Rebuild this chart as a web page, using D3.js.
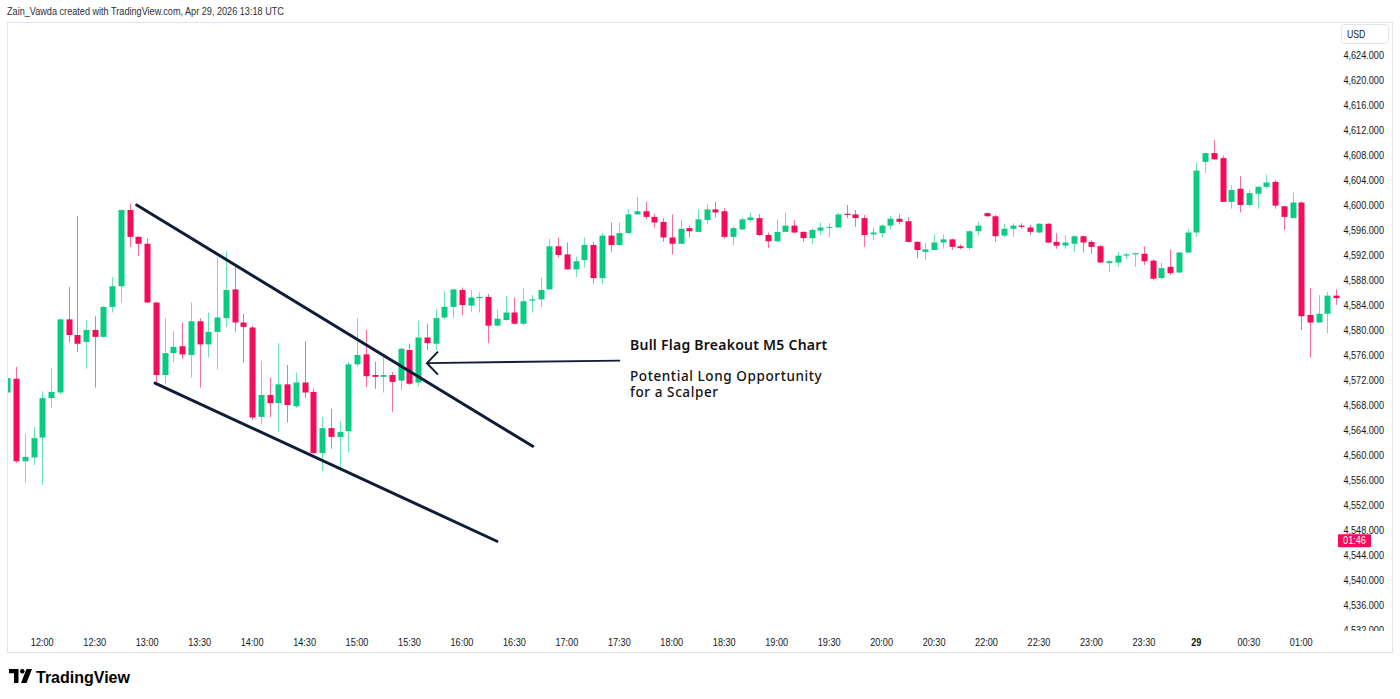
<!DOCTYPE html>
<html><head><meta charset="utf-8">
<script src="https://cdn.jsdelivr.net/npm/d3@7"></script>
<style>
html,body{margin:0;padding:0;background:#fff;}
svg{display:block;}
</style></head>
<body>
<svg id="chart" width="1400" height="699"></svg>
<script>
// ---------- DATA (XAU/USD M5) ----------
const startTime = "11:40";
const opens = [4570.0,4572.2,4559.0,4559.6,4562.8,4569.1,4570.0,4581.7,4579.2,4578.1,4580.0,4578.9,4583.7,4587.0,4599.2,4594.9,4593.8,4584.4,4572.8,4576.3,4577.4,4576.0,4581.4,4577.7,4579.7,4581.9,4586.5,4581.2,4580.4,4566.1,4569.6,4568.3,4571.3,4567.8,4571.6,4570.1,4560.3,4564.3,4562.9,4563.8,4574.5,4576.1,4572.8,4572.5,4572.8,4571.9,4576.8,4571.6,4578.8,4577.8,4582.0,4583.7,4586.4,4583.9,4585.1,4585.3,4580.7,4581.6,4582.8,4581.0,4584.7,4584.9,4586.5,4593.4,4592.1,4589.7,4591.2,4593.6,4588.3,4595.1,4593.6,4595.5,4598.5,4599.0,4598.1,4597.3,4594.8,4593.8,4596.3,4595.7,4597.6,4599.3,4599.0,4594.9,4596.1,4597.6,4597.9,4595.2,4594.2,4595.7,4596.7,4595.7,4594.7,4595.9,4596.4,4596.4,4598.6,4598.5,4597.9,4595.3,4595.5,4596.7,4597.8,4597.4,4594.1,4592.5,4592.8,4594.0,4594.5,4593.4,4593.1,4595.8,4598.7,4598.2,4595.1,4596.2,4596.7,4596.4,4595.6,4597.0,4594.1,4593.5,4593.8,4595.0,4594.1,4593.4,4590.7,4590.8,4591.9,4592.1,4592.2,4591.1,4588.3,4590.1,4589.2,4592.4,4595.6,4606.9,4608.3,4607.5,4600.5,4602.6,4600.0,4601.8,4602.9,4603.7,4599.8,4597.9,4600.4,4582.4,4581.2,4582.6,4585.5];
const highs = [4572.4,4574.1,4563.4,4564.5,4570.2,4573.9,4581.8,4586.9,4598.2,4581.6,4582.2,4583.8,4588.5,4599.3,4600.2,4595.0,4594.7,4584.5,4581.9,4579.8,4581.2,4584.4,4581.9,4582.8,4591.6,4592.6,4590.4,4582.6,4580.7,4575.1,4572.4,4577.9,4574.4,4573.2,4578.2,4570.6,4566.1,4567.4,4565.4,4574.9,4581.9,4580.1,4574.9,4576.1,4573.3,4577.2,4577.8,4581.5,4581.0,4583.3,4586.2,4586.6,4586.8,4586.4,4586.0,4585.8,4583.3,4585.4,4585.2,4586.7,4585.6,4588.4,4594.6,4594.8,4594.0,4591.7,4594.8,4594.1,4595.5,4597.2,4597.2,4599.4,4601.3,4600.5,4598.6,4597.9,4598.5,4597.7,4596.7,4599.3,4600.1,4600.5,4599.5,4596.6,4598.0,4598.8,4598.5,4595.6,4597.7,4598.8,4597.6,4595.8,4596.3,4597.2,4597.1,4598.8,4600.0,4599.2,4598.4,4596.4,4596.9,4598.3,4598.5,4598.0,4594.2,4593.9,4595.3,4595.3,4594.6,4593.7,4596.0,4597.3,4598.8,4598.4,4597.0,4597.1,4597.1,4596.8,4597.1,4597.1,4595.5,4595.2,4595.2,4595.1,4594.4,4593.6,4591.2,4592.5,4592.4,4592.4,4593.4,4591.3,4590.8,4592.9,4592.5,4596.1,4606.8,4608.4,4610.4,4607.9,4603.2,4604.6,4602.4,4603.0,4604.9,4604.0,4599.9,4602.0,4600.6,4586.7,4585.6,4586.1,4586.5];
const lows = [4569.8,4558.7,4555.6,4558.4,4555.2,4567.5,4569.7,4578.0,4576.5,4573.8,4570.8,4578.8,4582.8,4584.4,4593.3,4591.8,4584.3,4571.5,4571.3,4574.9,4575.4,4572.4,4570.8,4575.6,4573.7,4580.5,4579.7,4574.8,4565.6,4564.9,4566.1,4563.7,4565.2,4567.5,4569.1,4560.2,4557.4,4561.0,4557.5,4560.4,4574.1,4570.9,4570.6,4570.0,4566.9,4570.4,4571.2,4571.0,4576.8,4576.8,4581.8,4581.9,4582.4,4582.9,4582.8,4577.9,4580.6,4581.5,4580.9,4580.7,4582.8,4583.7,4586.5,4591.6,4589.7,4588.5,4590.0,4587.4,4587.3,4592.5,4593.5,4595.4,4598.4,4597.7,4596.4,4594.1,4592.1,4593.7,4594.8,4595.7,4596.9,4598.0,4594.6,4593.5,4596.0,4597.2,4595.0,4593.1,4594.0,4595.7,4595.5,4594.1,4593.7,4595.2,4594.8,4596.4,4597.9,4596.5,4593.3,4594.4,4594.8,4596.1,4596.9,4594.0,4591.5,4591.2,4592.8,4593.1,4592.8,4592.9,4592.8,4595.2,4598.1,4594.1,4594.8,4594.9,4596.2,4595.2,4595.5,4593.9,4593.0,4593.0,4592.5,4592.4,4592.2,4590.8,4589.3,4590.1,4591.3,4590.1,4590.4,4587.9,4588.1,4588.8,4589.1,4592.4,4594.9,4605.1,4607.3,4600.5,4599.4,4598.8,4599.7,4599.4,4602.6,4599.4,4596.0,4597.9,4580.0,4575.6,4581.2,4579.5,4584.0];
const closes = [4572.3,4559.0,4559.7,4562.7,4569.1,4570.1,4581.7,4579.2,4577.8,4580.0,4578.9,4583.7,4587.0,4599.2,4594.9,4593.8,4584.4,4572.8,4576.3,4577.3,4576.1,4581.4,4577.7,4579.7,4582.0,4586.4,4581.2,4580.5,4566.0,4569.6,4568.3,4571.3,4568.0,4571.6,4570.0,4560.3,4564.3,4562.9,4563.7,4574.5,4576.0,4572.6,4572.5,4572.8,4571.7,4577.0,4571.4,4578.8,4577.9,4581.9,4583.7,4586.5,4584.0,4585.2,4585.3,4580.7,4581.8,4582.8,4581.0,4584.6,4584.9,4586.4,4593.4,4592.0,4589.7,4591.0,4593.6,4588.3,4595.1,4593.6,4595.5,4598.5,4599.0,4598.1,4597.2,4594.8,4593.8,4596.2,4595.8,4597.7,4599.3,4598.8,4594.9,4596.3,4597.7,4598.0,4595.2,4594.2,4595.7,4596.7,4595.6,4594.7,4596.0,4596.4,4596.5,4598.5,4598.4,4597.9,4595.2,4595.6,4596.7,4597.8,4597.3,4594.1,4592.8,4592.9,4594.0,4594.5,4593.3,4593.1,4595.8,4596.7,4598.2,4595.0,4596.2,4596.7,4596.5,4595.7,4597.0,4594.0,4593.5,4594.0,4595.0,4594.0,4593.3,4590.8,4591.0,4591.9,4592.1,4592.3,4591.0,4588.2,4589.9,4589.1,4592.4,4595.6,4605.5,4608.3,4607.3,4600.5,4602.4,4600.0,4601.9,4602.9,4603.6,4599.9,4598.1,4600.4,4582.2,4581.2,4582.6,4585.5,4585.1];

const priceTicks = [4532,4536,4540,4544,4548,4552,4556,4560,4564,4568,4572,4576,4580,4584,4588,4592,4596,4600,4604,4608,4612,4616,4620,4624];
const tickTimes  = ["12:00","12:30","13:00","13:30","14:00","14:30","15:00","15:30","16:00","16:30","17:00","17:30","18:00","18:30","19:00","19:30","20:00","20:30","22:00","22:30","23:00","23:30","00:00","00:30","01:00"];
const tickLabels = ["12:00","12:30","13:00","13:30","14:00","14:30","15:00","15:30","16:00","16:30","17:00","17:30","18:00","18:30","19:00","19:30","20:00","20:30","22:00","22:30","23:00","23:30","29","00:30","01:00"];
const boldLabels = ["29"];

// Annotation drawings (index, price)
const flagUpper = [{i:14.8, p:4600.0},{i:60.1, p:4561.4}];
const flagLower = [{i:16.9, p:4571.5},{i:56.0, p:4546.2}];
const arrowLine = [{i:70.1, p:4575.1},{i:48.0, p:4574.7}];
const noteTitle = "Bull Flag Breakout M5 Chart";
const noteLines = ["Potential Long Opportunity","for a Scalper"];
const headerText = "Zain_Vawda created with TradingView.com, Apr 29, 2026 13:18 UTC";
const countdown = {label:"01:46", p:4546.3};

// ---------- build candle times (5-minute bars, 21:00-22:00 break) ----------
const N = opens.length;
function toMin(s){const [h,m]=s.split(":").map(Number);return h*60+m;}
function fmt(m){const h=Math.floor(m/60)%24, mm=m%60;return String(h).padStart(2,"0")+":"+String(mm).padStart(2,"0");}
const times=[];
for(let m=toMin(startTime); times.length<N; m+=5){const mm=m%1440; if(mm>=21*60 && mm<22*60) continue; times.push(fmt(mm));}
const candles = d3.range(N).map(i=>({i,t:times[i],o:opens[i],h:highs[i],l:lows[i],c:closes[i]}));

// ---------- layout ----------
const svg = d3.select("#chart");
const font = "'Liberation Sans',Arial,sans-serif";
const SX = 0.83; // condensed look of the UI font
const UP="#0BCB83", DOWN="#F70A59", INK="#131722", LINE="#0f1d3b";
const plot = {left:8, right:1340, top:23, bottom:631};

const x = d3.scaleLinear().domain([0,152]).range([7.3, 7.3+152*8.743]);
const y = d3.scaleLinear().domain([4532,4624]).range([630,55]);

function place(sel, fx, fy){ // position + horizontal condense
  return sel.attr("transform",(d,k)=>`translate(${typeof fx==="function"?fx(d,k):fx},${typeof fy==="function"?fy(d,k):fy}) scale(${SX},1)`);
}

// header
place(svg.append("text"),7,15).attr("font-family",font).attr("font-size",11)
  .attr("fill","#2a2e39").text(headerText);

// frame
svg.append("rect").attr("x",7.5).attr("y",22.5).attr("width",1385).attr("height",630)
  .attr("fill","none").attr("stroke","#e0e3eb").attr("stroke-width",1);

svg.append("clipPath").attr("id","pc").append("rect")
  .attr("x",plot.left).attr("y",plot.top).attr("width",plot.right-plot.left).attr("height",plot.bottom-plot.top);
svg.append("clipPath").attr("id","ac").append("rect")
  .attr("x",1336).attr("y",plot.top).attr("width",56).attr("height",plot.bottom-plot.top);

const g = svg.append("g").attr("clip-path","url(#pc)");

// candles
const bw = 6;
const cg = g.selectAll("g.c").data(candles).join("g").attr("class","c");
cg.append("line")
  .attr("x1",d=>Math.round(x(d.i))+0.5).attr("x2",d=>Math.round(x(d.i))+0.5)
  .attr("y1",d=>y(d.h)).attr("y2",d=>y(d.l))
  .attr("stroke",d=>d.c>=d.o?UP:DOWN).attr("stroke-opacity",0.6).attr("stroke-width",1);
cg.append("rect")
  .attr("x",d=>Math.round(x(d.i))+0.5-bw/2).attr("width",bw)
  .attr("y",d=>y(Math.max(d.o,d.c)))
  .attr("height",d=>Math.max(1,Math.abs(y(d.o)-y(d.c))))
  .attr("fill",d=>d.c>=d.o?UP:DOWN);

// drawings
const lineGen = d3.line().x(d=>x(d.i)).y(d=>y(d.p));
[flagUpper,flagLower].forEach(seg=>{
  g.append("path").attr("d",lineGen(seg)).attr("fill","none").attr("stroke",LINE)
   .attr("stroke-width",3).attr("stroke-linecap","round");
});
g.append("path").attr("d",lineGen(arrowLine)).attr("fill","none").attr("stroke",LINE).attr("stroke-width",2);
const tip = arrowLine[1];
const tx = x(tip.i), ty = y(tip.p);
g.append("path").attr("d",`M${tx+11},${ty-11.5} L${tx},${ty} L${tx+11},${ty+11.5}`)
  .attr("fill","none").attr("stroke",LINE).attr("stroke-width",2).attr("stroke-linejoin","miter");

// notes
const noteFont = "'Noto Sans','Open Sans',sans-serif";
svg.append("text").attr("x",630).attr("y",350).attr("font-family",noteFont).attr("font-size",14)
  .attr("font-weight",600).attr("letter-spacing",0.25).attr("fill","#111").text(noteTitle);
noteLines.forEach((s,k)=>{
  svg.append("text").attr("x",630).attr("y",381+k*16).attr("font-family",noteFont).attr("font-size",13.5)
    .attr("font-weight",500).attr("letter-spacing",0.6).attr("fill","#111").text(s);
});

// price axis
const ax = svg.append("g").attr("clip-path","url(#ac)");
place(ax.selectAll("text").data(priceTicks).join("text"),1384,d=>y(d))
  .attr("dy","0.35em").attr("text-anchor","end")
  .attr("font-family",font).attr("font-size",11).attr("fill",INK)
  .text(d=>d3.format(",.3f")(d));

// USD box
svg.append("rect").attr("x",1341.5).attr("y",24.5).attr("width",47).attr("height",19).attr("rx",3)
  .attr("fill","#fff").attr("stroke","#e0e3eb");
place(svg.append("text"),1347,37.5).attr("font-family",font).attr("font-size",10.5)
  .attr("fill",INK).text("USD");

// countdown label
const cy = y(countdown.p);
svg.append("rect").attr("x",1338).attr("y",cy-6.5).attr("width",33).attr("height",13).attr("rx",1).attr("fill",DOWN);
place(svg.append("text"),1354.5,cy).attr("dy","0.35em").attr("text-anchor","middle")
  .attr("font-family",font).attr("font-size",11).attr("fill","#fff").text(countdown.label);

// time axis
const tIdx = tickTimes.map(t=>times.indexOf(t));
place(svg.append("g").selectAll("text").data(tickLabels).join("text"),(d,k)=>x(tIdx[k]),642)
  .attr("dy","0.35em").attr("text-anchor","middle")
  .attr("font-family",font).attr("font-size",11)
  .attr("font-weight",d=>boldLabels.includes(d)?700:400)
  .attr("fill",INK).text(d=>d);

// TradingView logo
const logo = svg.append("g").attr("transform","translate(9,669)");
logo.append("path").attr("d","M0,0 H9.5 V14 H5 V4.2 H0 Z").attr("fill","#000");
logo.append("circle").attr("cx",13.3).attr("cy",2.3).attr("r",2.3).attr("fill","#000");
logo.append("path").attr("d","M17.5,0 H23 L17.5,14 H12 Z").attr("fill","#000");
svg.append("text").attr("x",36).attr("y",683).attr("font-family","'Liberation Sans',Arial,sans-serif")
  .attr("font-size",16).attr("font-weight",700).attr("fill","#000").text("TradingView");
</script>
</body></html>
